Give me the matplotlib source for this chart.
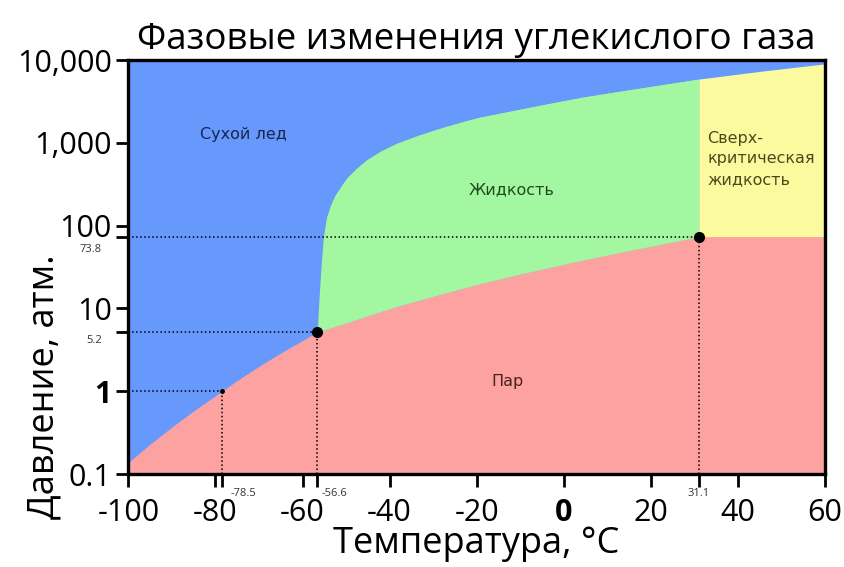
import matplotlib
matplotlib.use("Agg")
import matplotlib.pyplot as plt
import matplotlib.ticker as mticker
import numpy as np

plt.rcParams['font.family'] = ['Open Sans', 'DejaVu Sans']

# --- data ---
subl_T = [-100, -95, -90, -85, -78.5, -75, -70, -65, -60, -56.6]
subl_P = [0.138, 0.23, 0.37, 0.58, 1.0, 1.35, 2.0, 2.9, 4.1, 5.2]

vap_T = [-56.6, -50, -40, -30, -20, -10, 0, 10, 20, 31.1]
vap_P = [5.2, 6.7, 10, 14.1, 19.5, 26.1, 34.4, 44.4, 56.5, 73.8]

melt_T = [-56.6, -56.4, -56.2, -55.75, -55.2, -54.5, -53.6, -52.6, -51.0, -49.6,
          -47.5, -45.3, -42.0, -38.4, -33.0, -26.9, -23.0, -19.0, -10.0, 4.0,
          15.0, 31.1, 45.0, 60.0]
melt_P = [5.2, 8.6, 13.5, 31.6, 73.8, 126, 175, 230, 310, 390,
          500, 625, 800, 990, 1260, 1590, 1820, 2060, 2550, 3550,
          4370, 5900, 7300, 9000]

triple = (-56.6, 5.2)
critical = (31.1, 73.8)
sublim_1atm = (-78.5, 1.0)

x_ticks = [-100, -80, -60, -40, -20, 0, 20, 40, 60]
y_ticks = [0.1, 1, 10, 100, 1000, 10000]
y_tick_labels = ['0.1', '1', '10', '100', '1,000', '10,000']

c_blue = '#6699fb'
c_green = '#a3f7a0'
c_yellow = '#fbfa9f'
c_red = '#fca3a1'

fig = plt.figure(figsize=(8.45, 5.67), dpi=100)
ax = fig.add_axes([0.152, 0.164, 0.824, 0.730])
ax.set_yscale('log')
ax.set_xlim(-100, 60)
ax.set_ylim(0.1, 10000)
ax.set_facecolor(c_blue)

ymin, ymax = 0.1, 10000
# vapor region
lowT = subl_T + vap_T[1:]
lowP = subl_P + vap_P[1:]
ax.fill_between(lowT, ymin, lowP, color=c_red, lw=0, zorder=1)
ax.fill_between([critical[0], 60], ymin, critical[1], color=c_red, lw=0, zorder=1)

# liquid region (between vapor curve and melting curve)
mT = np.array(melt_T); mP = np.array(melt_P)
sel = mT <= critical[0]
liqT = mT[sel]
lv = np.interp(liqT, vap_T, np.log10(vap_P))
ax.fill_between(liqT, 10 ** lv, mP[sel], color=c_green, lw=0, zorder=1)
vT = np.array(vap_T)
vm = np.interp(vT, melt_T, np.log10(melt_P))
ax.fill_between(vT, vap_P, 10 ** vm, color=c_green, lw=0, zorder=1)

# supercritical
sT = mT[mT >= critical[0]]
sP = mP[mT >= critical[0]]
ax.fill_between(sT, critical[1], sP, color=c_yellow, lw=0, zorder=1)

# dotted guide lines
for (tx, py) in [triple, critical, sublim_1atm]:
    ax.plot([-100, tx], [py, py], color='black', ls=':', lw=1.1, zorder=2)
    ax.plot([tx, tx], [ymin, py], color='black', ls=':', lw=1.1, zorder=2)

ax.plot(*triple, 'o', color='black', ms=7, zorder=3)
ax.plot(*critical, 'o', color='black', ms=7, zorder=3)
ax.plot(*sublim_1atm, 'o', color='black', ms=2.5, zorder=3)

# region labels
lab_font = dict(family=['DejaVu Sans'], fontsize=11.5)
ax.text(-73.5, 1250, 'Сухой лед', ha='center', va='center', color='#1a2450', **lab_font)
ax.text(-12, 270, 'Жидкость', ha='center', va='center', color='#1f4a1f', **lab_font)
ax.text(-13, 1.3, 'Пар', ha='center', va='center', color='#4a2020', **lab_font)
ax.text(33, 640, 'Сверх-\nкритическая\nжидкость', ha='left', va='center',
        color='#4a4a18', linespacing=1.45, **lab_font)

# ticks
ax.yaxis.set_minor_locator(mticker.NullLocator())
ax.xaxis.set_minor_locator(mticker.NullLocator())
ax.set_xticks(x_ticks + [triple[0], sublim_1atm[0], critical[0]])
ax.set_xticklabels([str(v) for v in x_ticks] + ['', '', ''])
ax.set_yticks(y_ticks + [triple[1], critical[1]])
ax.set_yticklabels(y_tick_labels + ['', ''])
ax.tick_params(axis='both', direction='out', length=9, width=2, labelsize=22, colors='black')
ax.tick_params(axis='x', pad=8)
ax.tick_params(axis='y', pad=3)
for lbl in ax.get_xticklabels():
    if lbl.get_text() == '0':
        lbl.set_fontweight('bold')
for lbl in ax.get_yticklabels():
    if lbl.get_text() == '1':
        lbl.set_fontweight('bold')

# small value labels
small = dict(fontsize=8, color='#333333')
ax.annotate('-78.5', xy=(sublim_1atm[0], 0), xycoords=('data', 'axes fraction'),
            xytext=(6, -10), textcoords='offset points', ha='left', va='top', **small)
ax.annotate('-56.6', xy=(triple[0], 0), xycoords=('data', 'axes fraction'),
            xytext=(3, -10), textcoords='offset points', ha='left', va='top', **small)
ax.annotate('31.1', xy=(critical[0], 0), xycoords=('data', 'axes fraction'),
            xytext=(0, -10), textcoords='offset points', ha='center', va='top', **small)
ax.annotate('73.8', xy=(0, critical[1]), xycoords=('axes fraction', 'data'),
            xytext=(-19, -5), textcoords='offset points', ha='right', va='top', **small)
ax.annotate('5.2', xy=(0, triple[1]), xycoords=('axes fraction', 'data'),
            xytext=(-19, -2), textcoords='offset points', ha='right', va='top', **small)

for s in ax.spines.values():
    s.set_linewidth(2.4)
    s.set_zorder(5)

ax.set_xlabel('Температура, °C', fontsize=26, labelpad=-1)
ax.set_ylabel('Давление, атм.', fontsize=26)
ax.yaxis.set_label_coords(-0.095, 0.21)
ax.set_title('Фазовые изменения углекислого газа', fontsize=26.5, pad=8)

fig.savefig('out.png', dpi=100)
